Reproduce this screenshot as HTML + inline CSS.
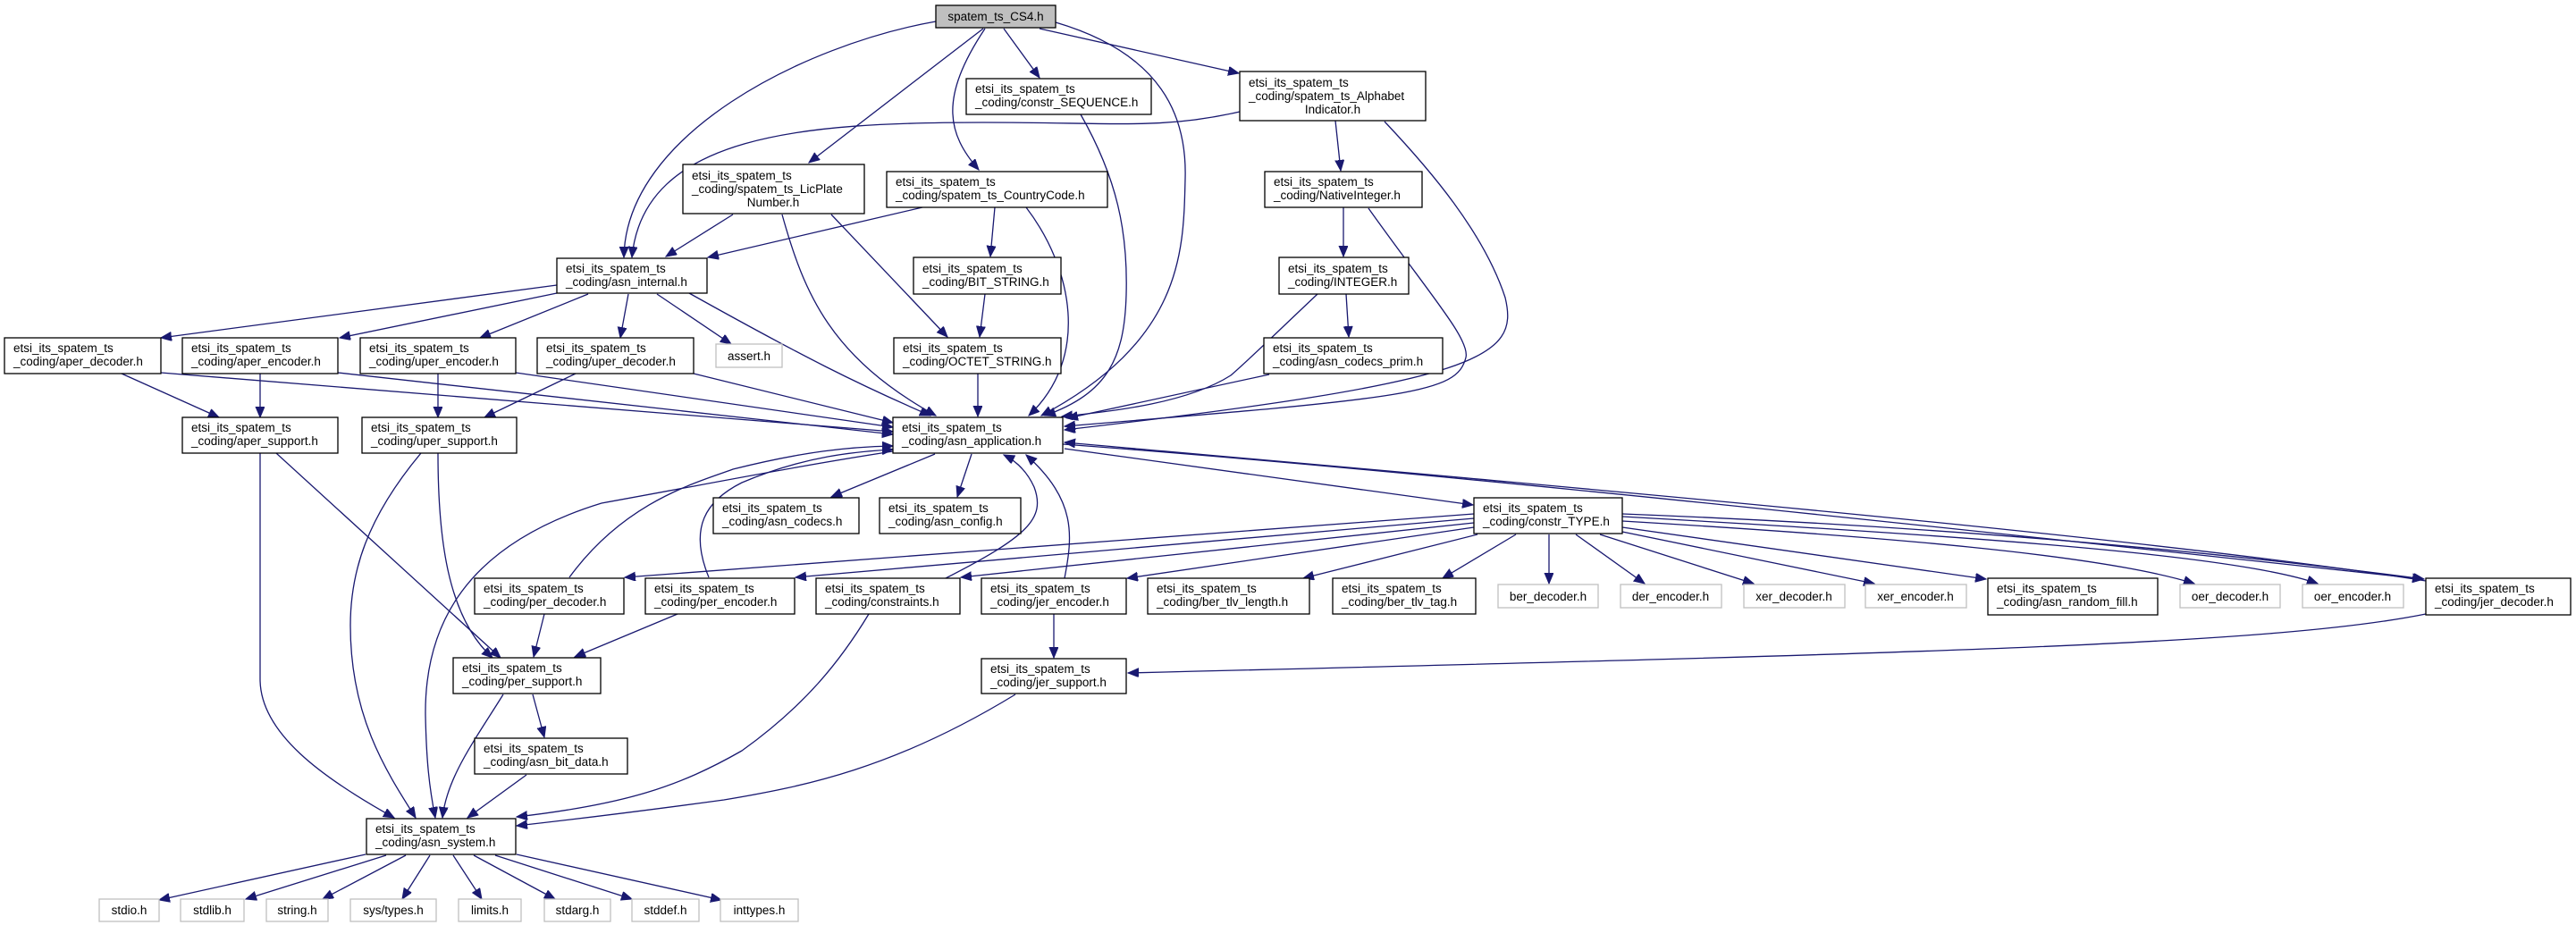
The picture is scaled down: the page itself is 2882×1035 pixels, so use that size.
<!DOCTYPE html>
<html><head><meta charset="utf-8"><style>
html,body{margin:0;padding:0;background:#fff;}
svg{display:block;}
text{font-family:"Liberation Sans","DejaVu Sans",sans-serif;font-size:13.5px;fill:#000;}
.n{fill:#fff;stroke:#000;stroke-width:1.3;}
.g{fill:#fff;stroke:#bfbfbf;stroke-width:1.3;}
.e{fill:none;stroke:#191970;stroke-width:1.3;marker-end:url(#a);}
</style></head><body>
<svg width="2882" height="1035" viewBox="0 0 2882 1035" xmlns="http://www.w3.org/2000/svg">
<defs><marker id="a" markerUnits="userSpaceOnUse" markerWidth="14" markerHeight="12" refX="12" refY="5" orient="auto"><path d="M0,0 L12,5 L0,10 z" fill="#191970" stroke="#191970"/></marker></defs>

<g>
<path class="e" d="M1047,24 C900,50 700,150 698,288"/>
<path class="e" d="M1100,32 L905,182"/>
<path class="e" d="M1102,32 C1050,110 1060,150 1095,190"/>
<path class="e" d="M1123,32 L1163,87"/>
<path class="e" d="M1181,25 C1300,60 1328,130 1326,200 C1324,280 1325,380 1165,465"/>
<path class="e" d="M1163,32 L1386,82"/>
<path class="e" d="M1387,125 C1300,145 1250,137 1100,137 C900,137 720,150 707,288"/>
<path class="e" d="M820,240 L745,287"/>
<path class="e" d="M875,240 C900,330 930,400 1047,465"/>
<path class="e" d="M930,240 L1060,377"/>
<path class="e" d="M771,328 C900,400 960,430 1041,465"/>
<path class="e" d="M1032,232 L792,288"/>
<path class="e" d="M1113,232 L1108,287"/>
<path class="e" d="M1148,232 C1200,300 1220,400 1151,465"/>
<path class="e" d="M1102,329 L1096,377"/>
<path class="e" d="M1094,418 L1094,466"/>
<path class="e" d="M1209,128 C1250,200 1262,260 1260,330 C1258,400 1240,440 1169,465"/>
<path class="e" d="M1494,135 L1500,191"/>
<path class="e" d="M1549,136 C1600,190 1660,260 1684,333 C1700,400 1660,427 1191,481"/>
<path class="e" d="M1503,232 L1503,287"/>
<path class="e" d="M1531,233 C1600,330 1645,380 1640,400 C1630,440 1580,445 1191,477"/>
<path class="e" d="M1506,329 L1509,377"/>
<path class="e" d="M1474,329 C1420,380 1400,400 1377,420 C1330,450 1250,460 1188,466"/>
<path class="e" d="M1420,419 L1194,468"/>
<path class="e" d="M623,319 L180,378"/>
<path class="e" d="M623,328 L380,378"/>
<path class="e" d="M658,329 L537,378"/>
<path class="e" d="M703,329 L694,378"/>
<path class="e" d="M735,329 L818,385"/>
<path class="e" d="M136,418 L245,467"/>
<path class="e" d="M180,417 L999,483"/>
<path class="e" d="M291,418 L291,467"/>
<path class="e" d="M378,417 L999,486"/>
<path class="e" d="M490,418 L490,467"/>
<path class="e" d="M577,417 L999,478"/>
<path class="e" d="M644,418 L542,467"/>
<path class="e" d="M776,418 L999,473"/>
<path class="e" d="M291,507 L291,760 C291,820 360,870 441,915"/>
<path class="e" d="M309,507 L560,736"/>
<path class="e" d="M471,507 C410,580 392,640 392,700 C392,800 430,860 465,915"/>
<path class="e" d="M490,507 C490,600 500,690 551,736"/>
<path class="e" d="M999,505 C900,520 800,540 673,563 C520,610 475,700 476,800 C477,850 480,880 487,915"/>
<path class="e" d="M1046,508 L930,556"/>
<path class="e" d="M1087,508 L1071,556"/>
<path class="e" d="M1191,502 L1648,565"/>
<path class="e" d="M1189,497 C1500,520 1900,560 2711,648"/>
<path class="e" d="M1058,647 C1150,600 1170,580 1157,545 C1148,525 1135,515 1123,509"/>
<path class="e" d="M1191,647 C1200,600 1205,560 1148,509"/>
<path class="e" d="M637,646 C700,560 780,540 820,525 C900,505 950,500 999,499"/>
<path class="e" d="M793,646 C770,590 790,560 830,540 C900,510 960,505 999,503"/>
<path class="e" d="M1649,575 L699,646"/>
<path class="e" d="M1649,580 L890,646"/>
<path class="e" d="M1649,585 L1075,646"/>
<path class="e" d="M1649,590 L1261,647"/>
<path class="e" d="M1653,598 L1458,647"/>
<path class="e" d="M1696,598 L1614,647"/>
<path class="e" d="M1733,598 L1733,653"/>
<path class="e" d="M1763,598 L1840,653"/>
<path class="e" d="M1790,598 L1962,653"/>
<path class="e" d="M1815,595 L2097,653"/>
<path class="e" d="M1815,590 L2222,648"/>
<path class="e" d="M1815,583 C2100,600 2350,620 2455,653"/>
<path class="e" d="M1815,578 C2200,600 2500,620 2593,653"/>
<path class="e" d="M1815,575 C2200,590 2500,620 2712,648"/>
<path class="e" d="M2714,650 C2400,600 1700,540 1191,495"/>
<path class="e" d="M2714,687 C2550,720 2200,730 1262,753"/>
<path class="e" d="M1179,687 L1179,736"/>
<path class="e" d="M1136,777 C1000,860 900,880 810,895 C700,910 640,917 578,924"/>
<path class="e" d="M972,687 C940,740 900,790 830,840 C760,880 700,900 578,914"/>
<path class="e" d="M609,687 L597,735"/>
<path class="e" d="M758,687 L643,735"/>
<path class="e" d="M563,777 C530,830 500,870 495,915"/>
<path class="e" d="M596,777 L609,825"/>
<path class="e" d="M589,867 L523,915"/>
<path class="e" d="M409,956 L178,1007"/>
<path class="e" d="M432,957 L275,1006"/>
<path class="e" d="M454,957 L361,1006"/>
<path class="e" d="M481,957 L450,1006"/>
<path class="e" d="M507,957 L539,1006"/>
<path class="e" d="M530,957 L621,1006"/>
<path class="e" d="M554,957 L707,1006"/>
<path class="e" d="M578,956 L807,1007"/>
</g>

<g>
<rect x="1047" y="6" width="134" height="25" fill="#bfbfbf" stroke="#000" stroke-width="1.3"/>
<text x="1114" y="23" text-anchor="middle">spatem_ts_CS4.h</text>

<rect class="n" x="1081" y="88" width="207" height="40"/>
<text x="1091" y="104">etsi_its_spatem_ts</text><text x="1091" y="119">_coding/constr_SEQUENCE.h</text>

<rect class="n" x="1387" y="80" width="208" height="55"/>
<text x="1397" y="97">etsi_its_spatem_ts</text><text x="1397" y="112">_coding/spatem_ts_Alphabet</text><text x="1491" y="127" text-anchor="middle">Indicator.h</text>

<rect class="n" x="764" y="184" width="203" height="55"/>
<text x="774" y="201">etsi_its_spatem_ts</text><text x="774" y="216">_coding/spatem_ts_LicPlate</text><text x="865" y="231" text-anchor="middle">Number.h</text>

<rect class="n" x="992" y="192" width="247" height="40"/>
<text x="1002" y="208">etsi_its_spatem_ts</text><text x="1002" y="223">_coding/spatem_ts_CountryCode.h</text>

<rect class="n" x="1415" y="192" width="176" height="40"/>
<text x="1425" y="208">etsi_its_spatem_ts</text><text x="1425" y="223">_coding/NativeInteger.h</text>

<rect class="n" x="623" y="289" width="168" height="39"/>
<text x="633" y="305">etsi_its_spatem_ts</text><text x="633" y="320">_coding/asn_internal.h</text>

<rect class="n" x="1022" y="288" width="165" height="41"/>
<text x="1032" y="305">etsi_its_spatem_ts</text><text x="1032" y="320">_coding/BIT_STRING.h</text>

<rect class="n" x="1431" y="288" width="145" height="41"/>
<text x="1441" y="305">etsi_its_spatem_ts</text><text x="1441" y="320">_coding/INTEGER.h</text>

<rect class="n" x="5" y="378" width="175" height="40"/>
<text x="15" y="394">etsi_its_spatem_ts</text><text x="15" y="409">_coding/aper_decoder.h</text>
<rect class="n" x="204" y="378" width="174" height="40"/>
<text x="214" y="394">etsi_its_spatem_ts</text><text x="214" y="409">_coding/aper_encoder.h</text>
<rect class="n" x="403" y="378" width="174" height="40"/>
<text x="413" y="394">etsi_its_spatem_ts</text><text x="413" y="409">_coding/uper_encoder.h</text>
<rect class="n" x="601" y="378" width="175" height="40"/>
<text x="611" y="394">etsi_its_spatem_ts</text><text x="611" y="409">_coding/uper_decoder.h</text>
<rect class="g" x="801" y="385" width="74" height="26"/>
<text x="838" y="403" text-anchor="middle">assert.h</text>

<rect class="n" x="1000" y="378" width="187" height="40"/>
<text x="1010" y="394">etsi_its_spatem_ts</text><text x="1010" y="409">_coding/OCTET_STRING.h</text>
<rect class="n" x="1414" y="378" width="200" height="40"/>
<text x="1424" y="394">etsi_its_spatem_ts</text><text x="1424" y="409">_coding/asn_codecs_prim.h</text>

<rect class="n" x="204" y="467" width="174" height="40"/>
<text x="214" y="483">etsi_its_spatem_ts</text><text x="214" y="498">_coding/aper_support.h</text>
<rect class="n" x="405" y="467" width="173" height="40"/>
<text x="415" y="483">etsi_its_spatem_ts</text><text x="415" y="498">_coding/uper_support.h</text>
<rect class="n" x="999" y="467" width="190" height="40"/>
<text x="1009" y="483">etsi_its_spatem_ts</text><text x="1009" y="498">_coding/asn_application.h</text>

<rect class="n" x="798" y="557" width="163" height="40"/>
<text x="808" y="573">etsi_its_spatem_ts</text><text x="808" y="588">_coding/asn_codecs.h</text>
<rect class="n" x="984" y="557" width="158" height="40"/>
<text x="994" y="573">etsi_its_spatem_ts</text><text x="994" y="588">_coding/asn_config.h</text>
<rect class="n" x="1649" y="557" width="166" height="40"/>
<text x="1659" y="573">etsi_its_spatem_ts</text><text x="1659" y="588">_coding/constr_TYPE.h</text>

<rect class="n" x="531" y="647" width="167" height="40"/>
<text x="541" y="663">etsi_its_spatem_ts</text><text x="541" y="678">_coding/per_decoder.h</text>
<rect class="n" x="722" y="647" width="167" height="40"/>
<text x="732" y="663">etsi_its_spatem_ts</text><text x="732" y="678">_coding/per_encoder.h</text>
<rect class="n" x="913" y="647" width="161" height="40"/>
<text x="923" y="663">etsi_its_spatem_ts</text><text x="923" y="678">_coding/constraints.h</text>
<rect class="n" x="1098" y="647" width="162" height="40"/>
<text x="1108" y="663">etsi_its_spatem_ts</text><text x="1108" y="678">_coding/jer_encoder.h</text>
<rect class="n" x="1284" y="647" width="181" height="40"/>
<text x="1294" y="663">etsi_its_spatem_ts</text><text x="1294" y="678">_coding/ber_tlv_length.h</text>
<rect class="n" x="1491" y="647" width="160" height="40"/>
<text x="1501" y="663">etsi_its_spatem_ts</text><text x="1501" y="678">_coding/ber_tlv_tag.h</text>
<rect class="g" x="1676" y="654" width="112" height="26"/>
<text x="1732" y="672" text-anchor="middle">ber_decoder.h</text>
<rect class="g" x="1813" y="654" width="113" height="26"/>
<text x="1869" y="672" text-anchor="middle">der_encoder.h</text>
<rect class="g" x="1951" y="654" width="113" height="26"/>
<text x="2007" y="672" text-anchor="middle">xer_decoder.h</text>
<rect class="g" x="2087" y="654" width="113" height="26"/>
<text x="2143" y="672" text-anchor="middle">xer_encoder.h</text>
<rect class="n" x="2224" y="647" width="190" height="41"/>
<text x="2234" y="663">etsi_its_spatem_ts</text><text x="2234" y="678">_coding/asn_random_fill.h</text>
<rect class="g" x="2439" y="654" width="112" height="26"/>
<text x="2495" y="672" text-anchor="middle">oer_decoder.h</text>
<rect class="g" x="2576" y="654" width="113" height="26"/>
<text x="2632" y="672" text-anchor="middle">oer_encoder.h</text>
<rect class="n" x="2714" y="647" width="162" height="41"/>
<text x="2724" y="663">etsi_its_spatem_ts</text><text x="2724" y="678">_coding/jer_decoder.h</text>

<rect class="n" x="507" y="736" width="165" height="40"/>
<text x="517" y="752">etsi_its_spatem_ts</text><text x="517" y="767">_coding/per_support.h</text>
<rect class="n" x="1098" y="737" width="162" height="39"/>
<text x="1108" y="753">etsi_its_spatem_ts</text><text x="1108" y="768">_coding/jer_support.h</text>
<rect class="n" x="531" y="826" width="171" height="40"/>
<text x="541" y="842">etsi_its_spatem_ts</text><text x="541" y="857">_coding/asn_bit_data.h</text>
<rect class="n" x="410" y="916" width="167" height="40"/>
<text x="420" y="932">etsi_its_spatem_ts</text><text x="420" y="947">_coding/asn_system.h</text>

<rect class="g" x="111" y="1006" width="67" height="25"/><text x="144.5" y="1023" text-anchor="middle">stdio.h</text>
<rect class="g" x="202" y="1006" width="71" height="25"/><text x="237.5" y="1023" text-anchor="middle">stdlib.h</text>
<rect class="g" x="298" y="1006" width="69" height="25"/><text x="332.5" y="1023" text-anchor="middle">string.h</text>
<rect class="g" x="392" y="1006" width="96" height="25"/><text x="440" y="1023" text-anchor="middle">sys/types.h</text>
<rect class="g" x="513" y="1006" width="70" height="25"/><text x="548" y="1023" text-anchor="middle">limits.h</text>
<rect class="g" x="609" y="1006" width="74" height="25"/><text x="646" y="1023" text-anchor="middle">stdarg.h</text>
<rect class="g" x="707" y="1006" width="75" height="25"/><text x="744.5" y="1023" text-anchor="middle">stddef.h</text>
<rect class="g" x="806" y="1006" width="87" height="25"/><text x="849.5" y="1023" text-anchor="middle">inttypes.h</text>
</g>
</svg>
</body></html>
